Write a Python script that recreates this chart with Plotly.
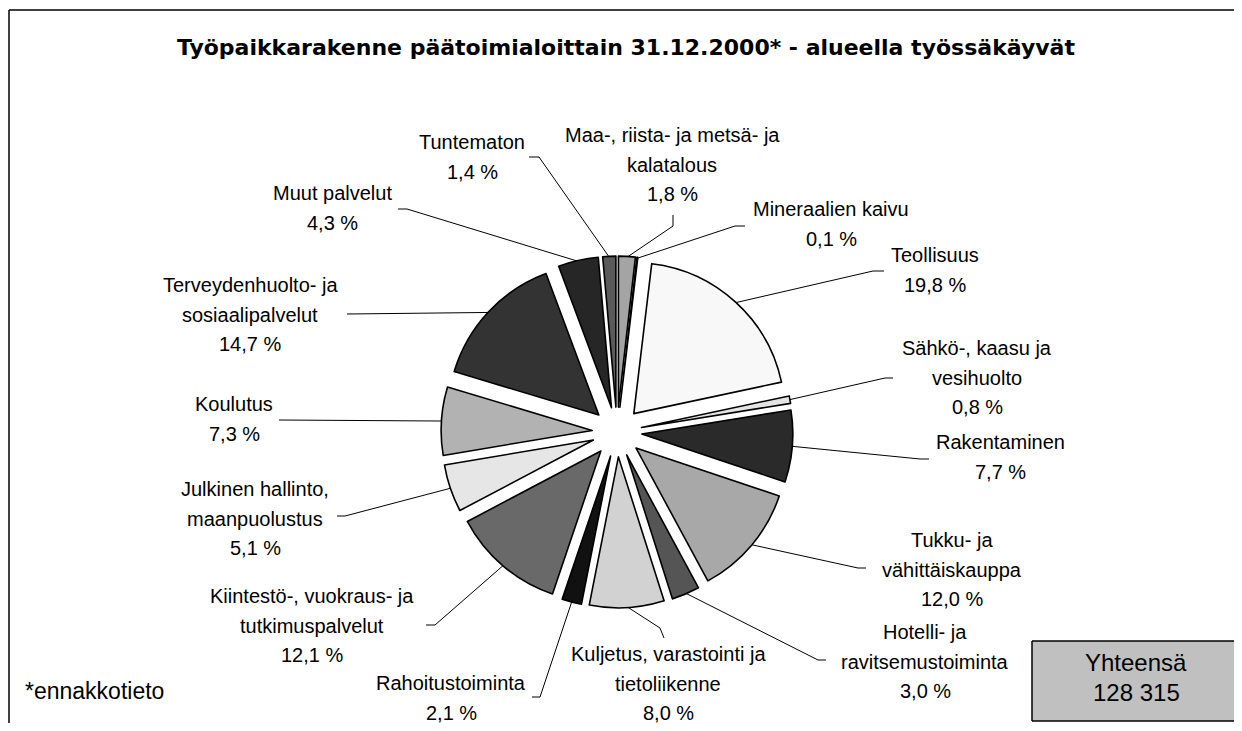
import numpy as np
import plotly.graph_objects as go

# ---------------- data ----------------
categories = [
    "Maa-, riista- ja metsä- ja\nkalatalous",
    "Mineraalien kaivu",
    "Teollisuus",
    "Sähkö-, kaasu ja\nvesihuolto",
    "Rakentaminen",
    "Tukku- ja\nvähittäiskauppa",
    "Hotelli- ja\nravitsemustoiminta",
    "Kuljetus, varastointi ja\ntietoliikenne",
    "Rahoitustoiminta",
    "Kiintestö-, vuokraus- ja\ntutkimuspalvelut",
    "Julkinen hallinto,\nmaanpuolustus",
    "Koulutus",
    "Terveydenhuolto- ja\nsosiaalipalvelut",
    "Muut palvelut",
    "Tuntematon",
]
values = [1.8, 0.1, 19.8, 0.8, 7.7, 12.0, 3.0, 8.0, 2.1, 12.1, 5.1, 7.3, 14.7, 4.3, 1.4]
colors = ["#a4a4a4", "#000000", "#f8f8f8", "#e4e4e4", "#2a2a2a", "#a8a8a8", "#555555",
          "#d2d2d2", "#111111", "#696969", "#e6e6e6", "#b2b2b2", "#333333", "#262626", "#5a5a5a"]
title_text = "Työpaikkarakenne päätoimialoittain 31.12.2000* - alueella työssäkäyvät"
total_label = "Yhteensä"
total_value = "128 315"
note_text = "*ennakkotieto"

# ---------------- layout constants (page pixels) ----------------
PAGE_W, PAGE_H = 1242, 731
OFF = 8                                     # page body margin around the figure
W, H = PAGE_W - 2 * OFF, PAGE_H - 2 * OFF   # figure size that avoids scrollbars
CX, CY = 617, 432                           # pie centre
R = 151                                     # pie radius
PULL = 0.165
FONT = "Liberation Sans, Arial, sans-serif"

# label block centre x and first-line y
label_pos = [
    (672, 135), (831, 209), (935, 255), (977, 348), (1000, 442),
    (952, 540), (925, 632), (668, 654), (451, 683), (312, 596),
    (255, 489), (234, 404), (250, 285), (332, 193), (472, 142),
]
# leader line elbow and end points
leader_pts = [
    ((673, 226), (673, 215)), ((735, 226), (745, 226)), ((873, 271), (884, 271)),
    ((885, 378), (893, 378)), ((920, 459), (929, 459)), ((858, 568), (866, 568)),
    ((818, 660), (826, 660)), ((660, 628), (664, 638)), ((540, 697), (532, 697)),
    ((435, 625), (426, 625)), ((345, 516), (337, 516)), ((288, 420), (279, 420)),
    ((357, 314), (347, 314)), ((407, 209), (398, 209)), ((539, 157), (529, 157)),
]
LINE_GAP = 29.5

ext = R * (1 + PULL)
fcx, fcy = CX - OFF, CY - OFF   # centre in figure pixels
fig = go.Figure()

fig.add_trace(go.Pie(
    values=values,
    labels=[c.replace("\n", " ") for c in categories],
    marker=dict(colors=colors, line=dict(color="#000000", width=1.6)),
    pull=[PULL] * len(values),
    sort=False, direction="clockwise", rotation=0,
    textinfo="none", hoverinfo="none", showlegend=False,
    domain=dict(x=[(fcx - ext) / W, (fcx + ext) / W],
                y=[(H - fcy - ext) / H, (H - fcy + ext) / H]),
))

# leader lines from slice mid-angles
tot = sum(values)
cum = np.cumsum([0] + values[:-1])
lx, ly = [], []
for i, v in enumerate(values):
    frac = (cum[i] + v / 2) / tot
    th = 2 * np.pi * frac
    rr = ext - 1
    px, py = CX + rr * np.sin(th), CY - rr * np.cos(th)
    (ex, ey), (tx, ty) = leader_pts[i]
    lx += [px, ex, tx, None]
    ly += [py, ey, ty, None]
fig.add_trace(go.Scatter(x=lx, y=ly, mode="lines", line=dict(color="#000000", width=1),
                         hoverinfo="skip", showlegend=False))

annotations = []
for i, v in enumerate(values):
    lines = categories[i].split("\n") + [f"{v:.1f}".replace(".", ",") + " %"]
    x0, y0 = label_pos[i]
    for k, t in enumerate(lines):
        annotations.append(dict(x=x0, y=y0 + k * LINE_GAP, xref="x", yref="y", text=t,
                                showarrow=False, xanchor="center", yanchor="middle",
                                font=dict(family=FONT, size=20, color="#000000")))

annotations.append(dict(x=626, y=47, xref="x", yref="y", text="<b>" + title_text + "</b>",
                        showarrow=False, xanchor="center", yanchor="middle",
                        font=dict(family="DejaVu Sans, sans-serif", size=22, color="#000000")))
annotations.append(dict(x=94, y=691, xref="x", yref="y", text=note_text, showarrow=False,
                        xanchor="center", yanchor="middle",
                        font=dict(family=FONT, size=23, color="#000000")))
annotations.append(dict(x=1136, y=662, xref="x", yref="y", text=total_label, showarrow=False,
                        xanchor="center", yanchor="middle",
                        font=dict(family=FONT, size=24, color="#000000")))
annotations.append(dict(x=1136, y=692, xref="x", yref="y", text=total_value, showarrow=False,
                        xanchor="center", yanchor="middle",
                        font=dict(family=FONT, size=24, color="#000000")))

XR = W + OFF          # right edge of the drawable area (page px)
BOX_L, BOX_T, BOX_B = 1032, 641, H + OFF - 2
edge = dict(color="#000000", width=1.5)
shapes = [
    # chart frame: only top and left edges are inside the window
    dict(type="line", xref="x", yref="y", x0=9, y0=10, x1=XR, y1=10, line=edge),
    dict(type="line", xref="x", yref="y", x0=9, y0=10, x1=9, y1=H + OFF, line=edge),
    # total box
    dict(type="rect", xref="x", yref="y", x0=BOX_L, y0=BOX_T, x1=XR, y1=BOX_B,
         line=dict(width=0), fillcolor="#c0c0c0", layer="below"),
    dict(type="line", xref="x", yref="y", x0=BOX_L, y0=BOX_T, x1=XR, y1=BOX_T, line=edge),
    dict(type="line", xref="x", yref="y", x0=BOX_L, y0=BOX_B, x1=XR, y1=BOX_B, line=edge),
    dict(type="line", xref="x", yref="y", x0=BOX_L, y0=BOX_T, x1=BOX_L, y1=BOX_B, line=edge),
]

fig.update_layout(
    width=W, height=H, margin=dict(l=0, r=0, t=0, b=0),
    paper_bgcolor="white", plot_bgcolor="rgba(0,0,0,0)",
    xaxis=dict(range=[OFF, W + OFF], visible=False, fixedrange=True, domain=[0, 1]),
    yaxis=dict(range=[H + OFF, OFF], visible=False, fixedrange=True, domain=[0, 1]),
    annotations=annotations, shapes=shapes,
)
fig.write_html("out.html")
